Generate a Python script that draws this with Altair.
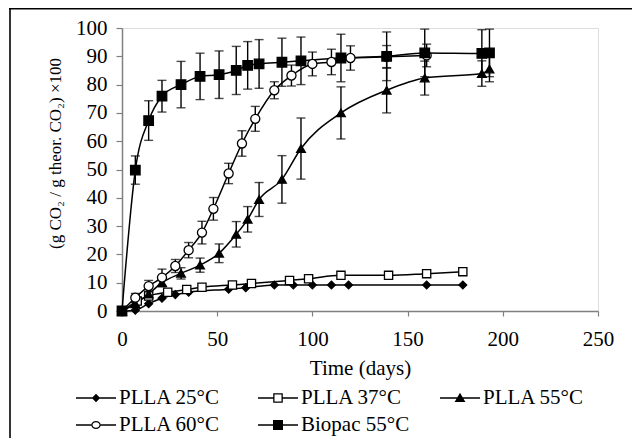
import altair as alt
import pandas as pd

FONT = "'Liberation Serif', 'Times New Roman', Times, serif"

series_names = ["PLLA 25°C", "PLLA 37°C", "PLLA 55°C", "PLLA 60°C", "Biopac 55°C"]

# PLLA 25°C (filled diamonds)
days_25 = [0, 7, 14, 21, 28, 35, 56, 65, 80, 90, 100, 110, 119, 160, 179]
vals_25 = [0, 0.3, 2.6, 4.5, 5.8, 6.6, 7.7, 8.2, 9.2, 9.2, 9.2, 9.2, 9.2, 9.2, 9.2]
errs_25 = [0] * len(days_25)

# PLLA 37°C (open squares)
days_37 = [0, 8, 14, 24, 34, 42, 58, 68, 88, 98, 115, 140, 160, 179]
vals_37 = [0, 3.5, 5.3, 6.6, 7.6, 8.4, 9.2, 9.7, 10.8, 11.4, 12.6, 12.6, 13.2, 13.9]
errs_37 = [0] * len(days_37)

# PLLA 55°C (filled triangles)
days_55 = [0, 7, 14, 21, 31, 41, 51, 60, 66, 72, 84, 94, 115, 139, 159, 189, 193]
vals_55 = [0, 2.5, 6.0, 10.0, 13.3, 16.2, 20.4, 27.1, 32.4, 39.4, 46.5, 57.4, 70.0, 78.0, 82.3, 83.9, 85.5]
errs_55 = [0, 0.5, 1.0, 1.5, 2.0, 2.5, 3.3, 4.5, 4.5, 6.0, 8.4, 10.8, 9.2, 8.0, 6.0, 4.5, 4.5]

# PLLA 60°C (open circles)
days_60 = [0, 7, 14, 21, 28, 35, 42, 48, 56, 63, 70, 80, 89, 100, 110, 120, 139, 160]
vals_60 = [0, 4.7, 8.8, 11.8, 15.9, 21.5, 27.7, 36.1, 48.6, 59.2, 67.9, 78.0, 83.2, 87.3, 88.0, 89.4, 89.8, 90.3]
errs_60 = [0, 1.5, 2.0, 3.0, 2.3, 2.7, 4.0, 4.0, 3.6, 4.5, 4.4, 3.0, 3.7, 4.2, 4.5, 4.3, 4.0, 4.0]

# Biopac 55°C (filled squares)
days_bp = [0, 7, 14, 21, 31, 41, 51, 60, 66, 72, 84, 94, 115, 139, 159, 189, 193]
vals_bp = [0, 49.8, 67.3, 75.9, 80.0, 82.9, 83.5, 85.0, 86.8, 87.3, 87.9, 88.4, 89.4, 90.0, 91.2, 91.0, 91.2]
errs_bp = [0, 5.0, 7.0, 5.6, 8.2, 8.2, 8.4, 8.5, 8.4, 8.6, 8.5, 8.4, 8.4, 8.6, 8.4, 8.4, 8.4]

x_ticks = [0, 50, 100, 150, 200, 250]
y_ticks = [0, 10, 20, 30, 40, 50, 60, 70, 80, 90, 100]

rows = []
for name, d, v, e in [
    (series_names[0], days_25, vals_25, errs_25),
    (series_names[1], days_37, vals_37, errs_37),
    (series_names[2], days_55, vals_55, errs_55),
    (series_names[3], days_60, vals_60, errs_60),
    (series_names[4], days_bp, vals_bp, errs_bp),
]:
    for di, vi, ei in zip(d, v, e):
        rows.append({"series": name, "day": di, "value": vi, "err": ei})
df = pd.DataFrame(rows)
df["lo"] = df["value"] - df["err"]
df["hi"] = df["value"] + df["err"]
err_df = df[df["err"] > 0].copy()

W, H = 476, 283

x_axis = alt.Axis(values=x_ticks, title="Time (days)", grid=False, labelFont=FONT, labelFontSize=21,
                  labelColor="black", titleFont=FONT, titleFontSize=21, titleFontWeight="normal",
                  titleColor="black", tickSize=5, tickColor="#808080", domainColor="#808080",
                  domainWidth=1.5, tickWidth=1.2, labelPadding=12, titleBaseline="middle", titleY=57,
                  labelFlush=False)
y_axis = alt.Axis(values=y_ticks, title="(g CO₂ / g theor. CO₂) ×100", grid=False, labelFont=FONT,
                  labelFontSize=21, labelColor="black", titleFont=FONT, titleFontSize=17,
                  titleFontWeight="normal", titleColor="black", tickSize=6, tickColor="#808080",
                  domainColor="#808080", domainWidth=1.5, tickWidth=1.2, labelPadding=9,
                  titleAngle=270, titleBaseline="middle", titleX=-67, titleY=125, labelFlush=False)

xs = alt.Scale(domain=[0, 250], nice=False)
ys = alt.Scale(domain=[0, 100], nice=False)

X = alt.X("day:Q", scale=xs, axis=x_axis)
Y = alt.Y("value:Q", scale=ys, axis=y_axis)

# legend symbols: line stub plus marker, all as filled SVG paths in the [-1, 1] box
# (open markers are outlines made with a reversed inner contour)
stub_l = "M-1,-0.033H-0.24V0.033H-1Z"
stub_r = "M0.24,-0.033H1V0.033H0.24Z"
stub_full = "M-1,-0.033H1V0.033H-1Z"
legend_paths = [
    stub_full + "M0,-0.21L0.21,0L0,0.21L-0.21,0Z",
    stub_l + stub_r + "M-0.24,-0.24H0.24V0.24H-0.24Z" + "M-0.175,-0.175V0.175H0.175V-0.175Z",
    stub_full + "M0,-0.26L0.27,0.2L-0.27,0.2Z",
    stub_l + stub_r + "M-0.24,0A0.24,0.2,0,1,1,0.24,0A0.24,0.2,0,1,1,-0.24,0Z"
    + "M-0.175,0A0.175,0.135,0,1,0,0.175,0A0.175,0.135,0,1,0,-0.175,0Z",
    stub_full + "M-0.25,-0.25H0.25V0.25H-0.25Z",
]
fills = ["black", "white", "black", "white", "black"]

legend = alt.Legend(
    title=None, orient="none", legendX=-46, legendY=357, columns=3, direction="horizontal",
    symbolSize=1600, clipHeight=26, rowPadding=1, columnPadding=30, gridAlign="all",
    labelFont=FONT, labelFontSize=21, labelColor="black", labelOffset=3, padding=0,
    symbolFillColor="black", symbolStrokeWidth=0, symbolOpacity=1,
)

base = alt.Chart(df)

lines = base.mark_line(interpolate="monotone", color="black", strokeWidth=1.5).encode(
    x=X, y=Y, detail="series:N"
)

rules = alt.Chart(err_df).mark_rule(color="black", strokeWidth=1.4).encode(
    x=X, y=alt.Y("lo:Q", scale=ys, axis=y_axis), y2="hi:Q"
)

caps = alt.Chart(err_df).transform_fold(["lo", "hi"], as_=["which", "capval"]).mark_tick(
    orient="horizontal", size=9, thickness=1.4, color="black"
).encode(x=X, y=alt.Y("capval:Q", scale=ys, axis=y_axis))

points = base.mark_point(filled=True, opacity=1, strokeWidth=1.3, stroke="black").encode(
    x=X, y=Y,
    shape=alt.Shape("series:N", scale=alt.Scale(domain=series_names,
                    range=["diamond", "square", "triangle-up", "circle", "square"]), legend=None),
    fill=alt.Fill("series:N", scale=alt.Scale(domain=series_names, range=fills), legend=None),
    size=alt.Size("series:N", scale=alt.Scale(domain=series_names,
                  range=[60, 90, 105, 95, 100]), legend=None),
)

legend_layer = base.transform_filter("false").mark_point(
    filled=True, opacity=1, color="black", strokeWidth=0
).encode(
    x=X, y=Y,
    shape=alt.Shape("series:N", scale=alt.Scale(domain=series_names, range=legend_paths), legend=legend),
)

frame_df = pd.DataFrame({"k": [0]})
top_line = alt.Chart(frame_df).mark_rule(color="black", strokeWidth=1.6).encode(
    x=alt.value(-113), x2=alt.value(W + 40), y=alt.value(-19.2)
)
left_line = alt.Chart(frame_df).mark_rule(color="black", strokeWidth=1.6).encode(
    x=alt.value(-112), y=alt.value(-20), y2=alt.value(H + 130)
)

chart = alt.layer(lines, rules, caps, points, legend_layer, top_line, left_line).resolve_scale(
    shape="independent"
).properties(
    width=W, height=H,
    autosize=alt.AutoSizeParams(type="none"),
    padding={"left": 114, "top": 20, "right": 34, "bottom": 127},
).configure_view(stroke="#a0a0a0", strokeWidth=1.5).configure(background="white", font=FONT)

chart.save("out.html", embed_options={"renderer": "svg", "actions": False})
